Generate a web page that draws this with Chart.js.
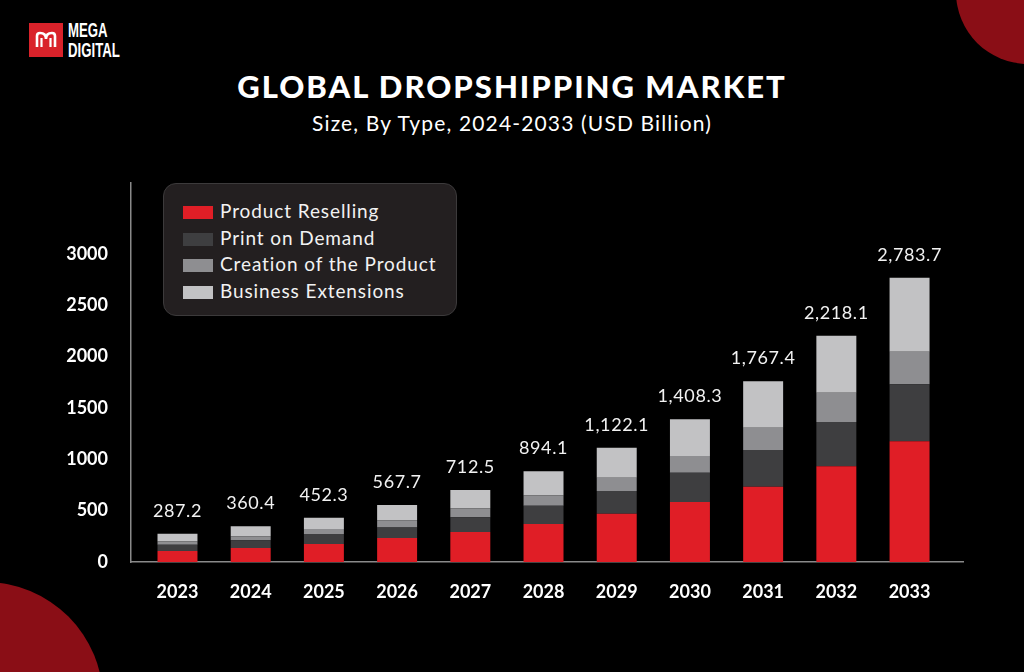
<!DOCTYPE html>
<html>
<head>
<meta charset="utf-8">
<script src="https://cdn.jsdelivr.net/npm/chart.js@4.4.1/dist/chart.umd.min.js"></script>
<style>
  html, body { margin: 0; padding: 0; background: #000; }
  body { width: 1024px; height: 672px; position: relative; overflow: hidden; font-family: "Lato", "Open Sans", sans-serif; color: #fff; }
  .blob { position: absolute; border-radius: 50%; background: #8a0e16; }
  #blobTop { left: 956px; top: -80px; width: 144px; height: 144px; }
  #blobBottom { left: -133px; top: 582px; width: 236px; height: 236px; }
  #logo { position: absolute; left: 29px; top: 23px; height: 34px; }
  #logo .mark { position: absolute; left: 0; top: 0; width: 34px; height: 34px; background: #d9222a; }
  #logo .txt { position: absolute; left: 39px; top: -3px; font-family: "Liberation Sans", "DejaVu Sans", sans-serif; font-weight: bold; font-size: 20px; line-height: 20px; transform: scaleX(0.66); transform-origin: left top; }
  #title { position: absolute; left: 0; width: 1024px; top: 67px; text-align: center; font-weight: 900; font-size: 31px; letter-spacing: 2px; }
  #subtitle { position: absolute; left: 0; width: 1024px; top: 110px; text-align: center; font-size: 21px; letter-spacing: 1.15px; }
  #chart { position: absolute; left: 0; top: 0; }
  #legend { position: absolute; left: 163px; top: 183px; width: 294px; height: 133px; background: #231f20; border: 1px solid #3c3a3b; border-radius: 13px; box-sizing: border-box; }
  .item { position: absolute; left: 19px; height: 20px; font-size: 19px; line-height: 20px; letter-spacing: 0.9px; color: #f2f2f2; white-space: nowrap; }
  .item span { display: inline-block; width: 30px; height: 13px; margin-right: 7px; vertical-align: -1px; }
</style>
</head>
<body>
<div class="blob" id="blobTop"></div>
<div class="blob" id="blobBottom"></div>
<div id="logo">
  <div class="mark">
    <svg width="34" height="34" viewBox="0 0 34 34">
      <path d="M8 24 V13 Q8 10 11 10 Q17 10 17 16 Q17 10 23 10 Q26 10 26 13 V24" fill="none" stroke="#fff" stroke-width="2.6"/>
      <path d="M12.5 24 V15 M21.5 24 V15" stroke="#fff" stroke-width="2.2"/>
    </svg>
  </div>
  <div class="txt">MEGA<br>DIGITAL</div>
</div>
<div id="title">GLOBAL DROPSHIPPING MARKET</div>
<div id="subtitle">Size, By Type, 2024-2033 (USD Billion)</div>
<canvas id="chart" width="1024" height="672"></canvas>
<div id="legend"></div>
<script>
// Chart data (USD Billion)
const years = [2023, 2024, 2025, 2026, 2027, 2028, 2029, 2030, 2031, 2032, 2033];
const productReselling = [107, 136, 175, 234, 292, 370, 470, 584, 733, 932, 1175];
const printOnDemand = [62, 75, 97, 101, 143, 178, 221, 285, 357, 431, 555];
const creationOfProduct = [32, 39, 49, 71, 88, 101, 130, 163, 217, 285, 317];
const businessExtensions = [75, 97, 111, 149, 178, 234, 292, 357, 452, 555, 720];
const totals = [287.2, 360.4, 452.3, 567.7, 712.5, 894.1, 1122.1, 1408.3, 1767.4, 2218.1, 2783.7];
const yTicks = [0, 500, 1000, 1500, 2000, 2500, 3000];

const seriesNames = ["Product Reselling", "Print on Demand", "Creation of the Product", "Business Extensions"];
const seriesColors = ["#e01e26", "#3e3e40", "#8e8e91", "#c2c2c4"];
const seriesData = [productReselling, printOnDemand, creationOfProduct, businessExtensions];

// legend box
const legendBox = document.getElementById("legend");
seriesNames.forEach((name, i) => {
  const item = document.createElement("div");
  item.className = "item";
  item.style.top = (17 + i * 26.6) + "px";
  item.innerHTML = `<span style="background:${seriesColors[i]}"></span>${name}`;
  legendBox.appendChild(item);
});

// totals written above each stack
const totalLabels = {
  id: "totalLabels",
  afterDatasetsDraw(chart) {
    const ctx = chart.ctx;
    const meta = chart.getDatasetMeta(chart.data.datasets.length - 1);
    ctx.save();
    ctx.font = '18px "Lato", sans-serif';
    ctx.letterSpacing = "0.6px";
    ctx.fillStyle = "#f2f2f2";
    ctx.textAlign = "center";
    ctx.textBaseline = "alphabetic";
    meta.data.forEach((bar, i) => {
      const txt = totals[i].toLocaleString("en-US", { minimumFractionDigits: 1 });
      ctx.fillText(txt, bar.x, bar.y - 17);
    });
    ctx.restore();
  }
};

const ctx = document.getElementById("chart").getContext("2d");
new Chart(ctx, {
  type: "bar",
  data: {
    datasets: seriesData.map((vals, i) => ({
      label: seriesNames[i],
      data: vals.map((v, j) => ({ x: years[j], y: v })),
      backgroundColor: seriesColors[i],
      borderWidth: 0,
      barPercentage: 0.546,
      categoryPercentage: 1
    }))
  },
  options: {
    responsive: false,
    animation: false,
    layout: { padding: { left: 0, right: 61, top: 183, bottom: 50 } },
    plugins: { legend: { display: false }, tooltip: { enabled: false } },
    scales: {
      x: {
        type: "linear",
        stacked: true,
        offset: false,
        min: 2022.365,
        max: 2033.73,
        afterBuildTicks: s => { s.ticks = years.map(v => ({ value: v })); },
        afterFit: s => { s.height = 60; },
        grid: { display: false, drawTicks: false },
        border: { display: true, color: "#8a8a8a", width: 1.5 },
        ticks: {
          color: "#ffffff",
          padding: 19,
          font: { family: "Lato", size: 18, weight: "bold" },
          callback: v => String(v)
        }
      },
      y: {
        stacked: true,
        min: 0,
        max: 3690,
        afterBuildTicks: s => { s.ticks = yTicks.map(v => ({ value: v })); },
        afterFit: s => { s.width = 131; },
        grid: { display: false, drawTicks: false },
        border: { display: true, color: "#8a8a8a", width: 1.5 },
        ticks: {
          color: "#ffffff",
          padding: 23,
          font: { family: "Lato", size: 18, weight: "bold" },
          callback: v => String(v)
        }
      }
    }
  },
  plugins: [totalLabels]
});
</script>
</body>
</html>
